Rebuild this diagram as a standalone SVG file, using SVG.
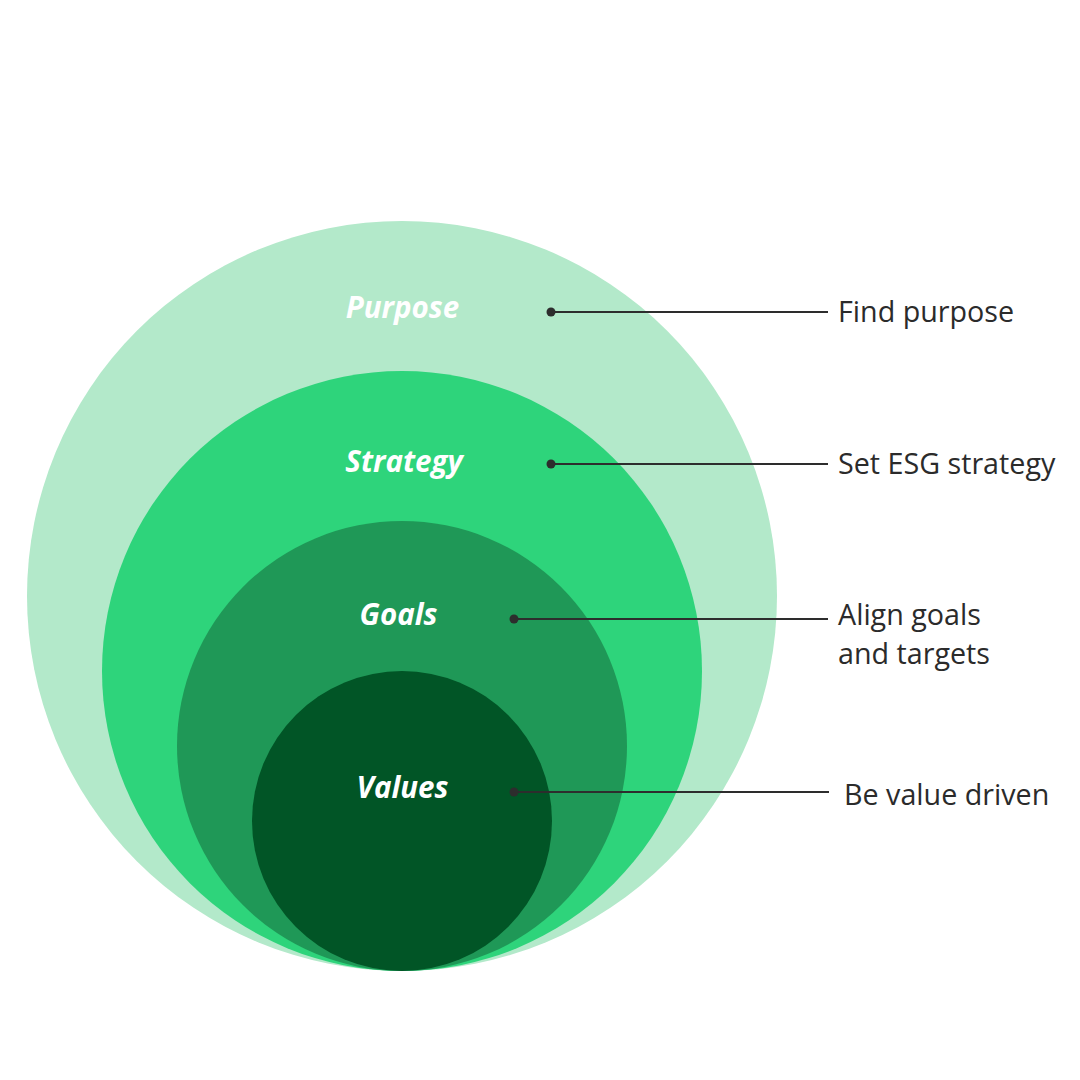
<svg xmlns="http://www.w3.org/2000/svg" width="1080" height="1080" viewBox="0 0 1080 1080">
<style>
.lbl{font-family:"Open Sans","Liberation Sans",sans-serif;font-weight:700;font-style:italic;font-size:29.5px;fill:#ffffff;text-anchor:middle}
.txt{font-family:"Open Sans","Liberation Sans",sans-serif;font-size:28.7px;fill:#2b2b2b}
.ln{stroke:#2d2d2d;stroke-width:2.2;fill:none}
.dot{fill:#2d2d2d}
</style>
<rect width="1080" height="1080" fill="#ffffff"/>
<g id="purpose">
<circle cx="402" cy="596" r="375" fill="#b3e9ca"/>
<text class="lbl" x="402.5" y="318">Purpose</text>
</g>
<g id="strategy">
<circle cx="402" cy="671" r="300" fill="#2ed47b"/>
<text class="lbl" x="404" y="472">Strategy</text>
</g>
<g id="goals">
<circle cx="402" cy="746" r="225" fill="#1f9857"/>
<text class="lbl" x="398.5" y="625">Goals</text>
</g>
<g id="values">
<circle cx="402" cy="821" r="150" fill="#015526"/>
<text class="lbl" x="402.5" y="798">Values</text>
</g>
<g id="connectors">
<line class="ln" x1="551" y1="312" x2="828" y2="312"/>
<circle class="dot" cx="551" cy="312" r="4.5"/>
<line class="ln" x1="551" y1="464" x2="828" y2="464"/>
<circle class="dot" cx="551" cy="464" r="4.5"/>
<line class="ln" x1="514" y1="619" x2="828" y2="619"/>
<circle class="dot" cx="514" cy="619" r="4.5"/>
<line class="ln" x1="514" y1="792" x2="829" y2="792"/>
<circle class="dot" cx="514" cy="792" r="4.5"/>
</g>
<g id="text-find">
<text class="txt" x="838" y="322">Find purpose</text>
</g>
<g id="text-set">
<text class="txt" x="838" y="474">Set ESG strategy</text>
</g>
<g id="text-align">
<text class="txt" x="838" y="625">Align goals</text>
<text class="txt" x="838" y="664">and targets</text>
</g>
<g id="text-be">
<text class="txt" x="844" y="805">Be value driven</text>
</g>
</svg>
